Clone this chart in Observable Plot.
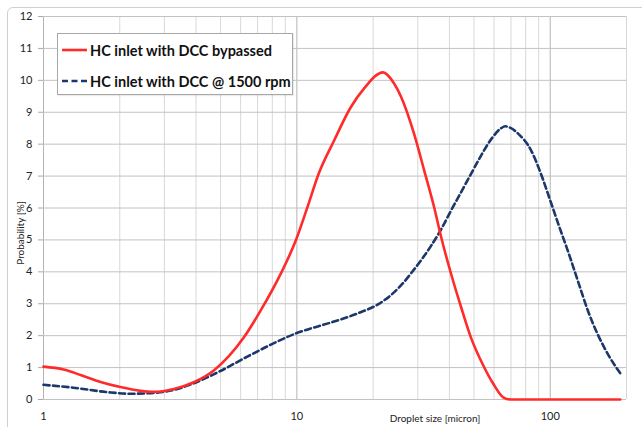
<!DOCTYPE html>
<html>
<head>
<meta charset="utf-8">
<script src="https://cdn.jsdelivr.net/npm/d3@7"></script>
<script src="https://cdn.jsdelivr.net/npm/@observablehq/plot@0.6"></script>
<style>
  html, body { margin: 0; padding: 0; background: #fff; }
  #wrap { position: relative; width: 642px; height: 427px; overflow: hidden; font-family: Lato, "Open Sans", sans-serif; }
  #border { position: absolute; left: 7px; top: 7px; width: 640px; height: 440px; border: 1px solid #cfcfcf; border-radius: 6px; box-sizing: border-box; }
  #legend { position: absolute; left: 57px; top: 33px; width: 236px; height: 62px; border: 1px solid #a8a8a8; background: #fff; box-sizing: border-box; box-shadow: 1px 1px 1px rgba(0,0,0,0.08); }
  .row { position: absolute; left: 4px; height: 20px; display: flex; align-items: center; font-weight: bold; font-size: 14.5px; color: #111; white-space: nowrap; }
  .row svg { margin-right: 3px; }
  #plot { position: absolute; left: 0; top: 0; }
</style>
</head>
<body>
<div id="wrap">
  <div id="border"></div>
  <div id="plot"></div>
  <div id="legend"></div>
</div>
<script>
// Series: HC inlet with DCC bypassed
const bypassX = [1, 1.2, 1.4, 1.68, 2.01, 2.42, 2.72, 3.27, 3.92, 4.7, 6.17, 7.2, 8.65, 9.9, 11, 12.2, 14, 16.3, 18.4, 21.9, 24.2, 25.8, 29, 31.8, 34.8, 37.1, 40.6, 44.5, 48.7, 54.3, 59.5, 65.2, 70, 100, 189];
const bypassY = [1.03, 0.94, 0.77, 0.55, 0.39, 0.27, 0.24, 0.33, 0.54, 0.91, 1.94, 2.79, 3.95, 4.98, 6.02, 7.08, 8.1, 9.15, 9.74, 10.25, 9.9, 9.48, 8.33, 7.18, 6.03, 5.09, 3.94, 2.89, 1.93, 1.08, 0.5, 0.07, 0, 0, 0];
// Series: HC inlet with DCC @ 1500 rpm
const rpmX = [1, 1.31, 1.79, 2.21, 2.65, 3.27, 3.92, 4.87, 6.4, 7.9, 9.9, 13.6, 17.4, 21.5, 23.5, 25.8, 28.2, 30.9, 33.9, 37.1, 40.6, 44.5, 48.7, 53.4, 58.4, 64, 66.5, 70, 74.7, 84.1, 92.1, 99.1, 107.6, 117.8, 129, 141.3, 154.8, 169.5, 189];
const rpmY = [0.46, 0.37, 0.23, 0.18, 0.2, 0.3, 0.51, 0.85, 1.35, 1.72, 2.07, 2.41, 2.7, 3.04, 3.27, 3.58, 3.95, 4.36, 4.82, 5.33, 5.92, 6.5, 7.07, 7.65, 8.15, 8.5, 8.56, 8.5, 8.33, 7.8, 7.05, 6.33, 5.5, 4.62, 3.68, 2.75, 2.0, 1.4, 0.82];

const seriesNames = ["HC inlet with DCC bypassed", "HC inlet with DCC @ 1500 rpm"];
const seriesColors = ["#ff2b2b", "#1c3769"];

const xMajorTicks = [1, 10, 100];
const xMinorTicks = [2, 3, 4, 5, 6, 7, 8, 9, 20, 30, 40, 50, 60, 70, 80, 90, 200];
const yTicks = [0, 1, 2, 3, 4, 5, 6, 7, 8, 9, 10, 11, 12];
const xLabel = "Droplet size [micron]";
const yLabel = "Probability [%]";

const bypass = bypassX.map((x, i) => ({x, y: bypassY[i]}));
const rpm = rpmX.map((x, i) => ({x, y: rpmY[i]}));

const chart = Plot.plot({
  width: 642,
  height: 427,
  marginLeft: 43,
  marginRight: 16,
  marginTop: 16,
  marginBottom: 28,
  style: {fontFamily: "Lato, 'Open Sans', sans-serif", fontSize: "11px", color: "#222", background: "transparent"},
  x: {type: "log", domain: [1, 200]},
  y: {domain: [0, 12]},
  marks: [
    Plot.gridX(xMinorTicks, {stroke: "#d8d8d8", strokeOpacity: 1}),
    Plot.gridX(xMajorTicks, {stroke: "#b4b4b4", strokeOpacity: 1}),
    Plot.gridY(yTicks, {stroke: "#c2c2c2", strokeOpacity: 1}),
    Plot.axisY({ticks: yTicks, tickSize: 5, tickPadding: 6, stroke: "#aaa", label: null, tickFormat: d => String(d)}),
    Plot.axisX({ticks: xMajorTicks, tickSize: 0, tickPadding: 13, label: null, tickFormat: d => String(d)}),
    Plot.text([yLabel], {frameAnchor: "left", rotate: -90, dx: -23, dy: 25, fontSize: 10, fill: "#222", textAnchor: "middle"}),
    Plot.text([xLabel], {frameAnchor: "bottom", dx: 100, dy: 19, fontSize: 10, fill: "#222", textAnchor: "middle", lineAnchor: "middle"}),
    Plot.line(rpm, {x: "x", y: "y", stroke: seriesColors[1], strokeWidth: 2.6, strokeDasharray: "6,3.5", curve: "monotone-x"}),
    Plot.line(bypass, {x: "x", y: "y", stroke: seriesColors[0], strokeWidth: 2.6, curve: "monotone-x"})
  ]
});
document.getElementById("plot").appendChild(chart);

const legend = document.getElementById("legend");
seriesNames.forEach((name, i) => {
  const row = document.createElement("div");
  row.className = "row";
  row.style.top = (i === 0 ? 6 : 37) + "px";
  const dash = i === 1 ? ' stroke-dasharray="6,3.5"' : '';
  row.innerHTML = `<svg width="25" height="6"><line x1="0" y1="3" x2="25" y2="3" stroke="${seriesColors[i]}" stroke-width="2.6"${dash}/></svg><span>${name}</span>`;
  legend.appendChild(row);
});
</script>
</body>
</html>
